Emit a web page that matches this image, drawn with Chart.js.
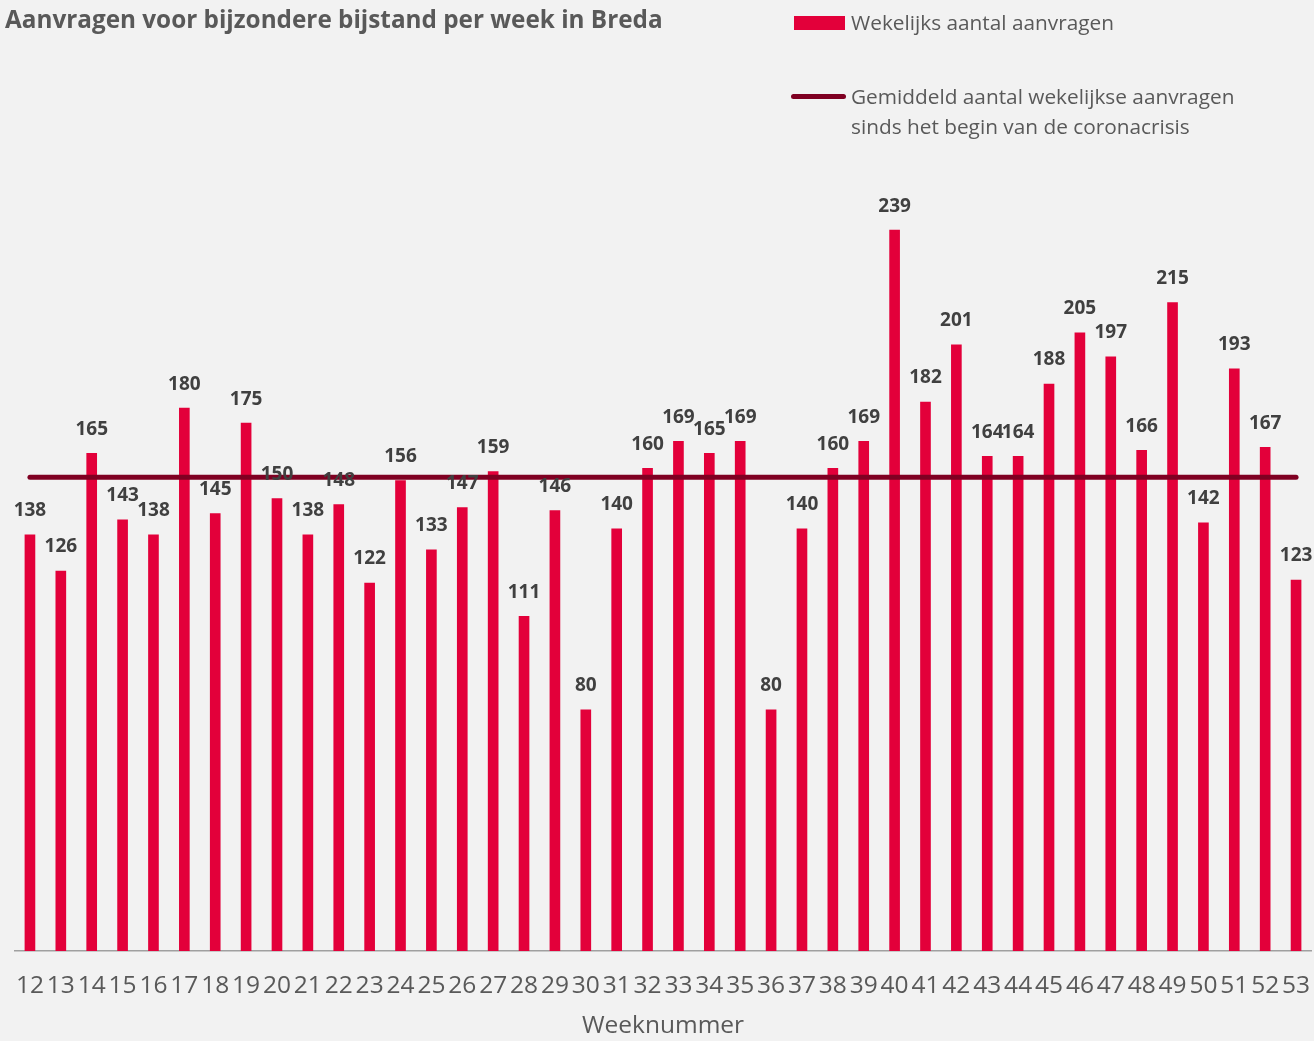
<!DOCTYPE html>
<html>
<head>
<meta charset="utf-8">
<script src="https://cdn.jsdelivr.net/npm/chart.js@4.4.2/dist/chart.umd.min.js"></script>
<style>
  html, body { margin: 0; padding: 0; background: #f2f2f2; }
  #wrap { position: relative; width: 1314px; height: 1041px; font-family: "Open Sans", sans-serif; color: #595959; }
  #title { position: absolute; left: 5px; top: 2px; font-size: 24.3px; font-weight: 700; white-space: nowrap; }
  .lg { position: absolute; left: 851px; font-size: 20.8px; line-height: 30px; white-space: nowrap; }
  .swatch-bar { position: absolute; left: 794px; top: 16px; width: 51px; height: 14px; background: #e3003a; }
  .swatch-line { position: absolute; left: 791px; top: 94px; width: 55px; height: 5px; border-radius: 3px; background: #7f0022; }
  canvas { position: absolute; left: 0; top: 0; }
</style>
</head>
<body>
<div id="wrap">
  <canvas id="chart" width="1314" height="1041"></canvas>
  <div id="title">Aanvragen voor bijzondere bijstand per week in Breda</div>
  <div class="swatch-bar"></div>
  <div class="lg" style="top:7px">Wekelijks aantal aanvragen</div>
  <div class="swatch-line"></div>
  <div class="lg" style="top:81px">Gemiddeld aantal wekelijkse aanvragen<br>sinds het begin van de coronacrisis</div>
</div>
<script>
const weeks = ['12','13','14','15','16','17','18','19','20','21','22','23','24','25','26','27','28','29','30','31','32',
               '33','34','35','36','37','38','39','40','41','42','43','44','45','46','47','48','49','50','51','52','53'];
const aanvragen = [138,126,165,143,138,180,145,175,150,138,148,122,156,133,147,159,111,146,80,140,160,
                   169,165,169,80,140,160,169,239,182,201,164,164,188,205,197,166,215,142,193,167,123];
const gemiddelde = 157.1;

const barLabels = {
    id: 'barLabels',
    afterDatasetsDraw(chart) {
        const ctx = chart.ctx;
        const meta = chart.getDatasetMeta(1);
        ctx.save();
        ctx.font = 'bold 19px "Open Sans"';
        ctx.fillStyle = '#404040';
        ctx.textAlign = 'center';
        ctx.textBaseline = 'middle';
        meta.data.forEach((bar, i) => {
            ctx.fillText(aanvragen[i], bar.x, bar.y - 24);
        });
        ctx.restore();
    }
};

new Chart(document.getElementById('chart'), {
    type: 'bar',
    data: {
        labels: weeks,
        datasets: [{
            type: 'line',
            label: 'Gemiddeld aantal wekelijkse aanvragen sinds het begin van de coronacrisis',
            data: weeks.map(() => gemiddelde),
            borderColor: '#7f0022',
            borderWidth: 5,
            borderCapStyle: 'round',
            pointRadius: 0,
            fill: false,
            order: 0
        }, {
            label: 'Wekelijks aantal aanvragen',
            data: aanvragen,
            backgroundColor: '#e3003a',
            barThickness: 10,
            order: 1
        }]
    },
    options: {
        responsive: false,
        animation: false,
        layout: { padding: { top: 197, left: 14.5, right: 2.5, bottom: 0 } },
        plugins: {
            legend: { display: false },
            tooltip: { enabled: false }
        },
        scales: {
            y: {
                display: false,
                min: 0,
                max: 250
            },
            x: {
                grid: { display: true, drawOnChartArea: false, drawTicks: true, tickLength: 18, tickColor: 'rgba(0,0,0,0)' },
                border: { display: true, color: '#a0a0a0', width: 1.5 },
                ticks: {
                    color: '#595959',
                    font: { family: 'Open Sans', size: 24.5 },
                    padding: 2,
                    maxRotation: 0,
                    autoSkip: false
                },
                title: {
                    display: true,
                    text: 'Weeknummer',
                    color: '#595959',
                    font: { family: 'Open Sans', size: 24.5 },
                    padding: { top: 0, bottom: 0 }
                },
                afterFit(scale) { scale.height = 90; }
            }
        }
    },
    plugins: [barLabels]
});
</script>
</body>
</html>
